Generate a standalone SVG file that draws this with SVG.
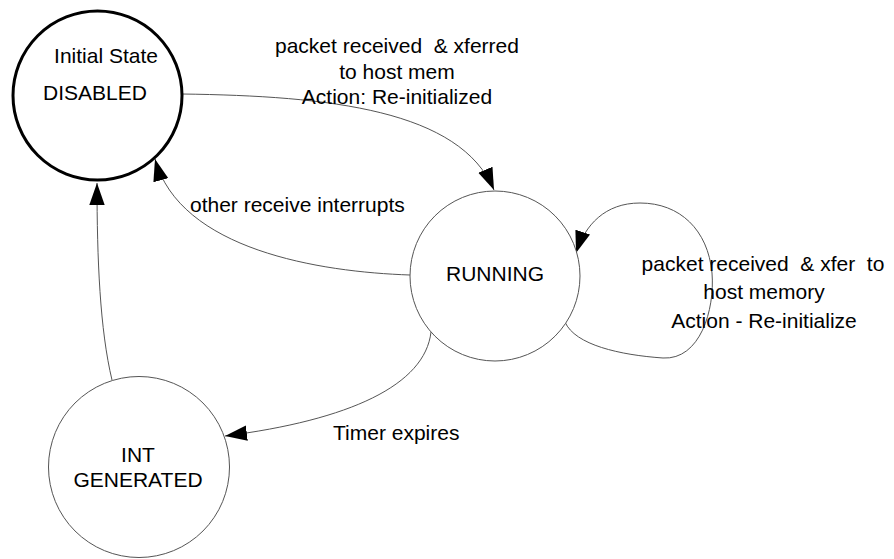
<svg xmlns="http://www.w3.org/2000/svg" width="894" height="559" viewBox="0 0 894 559">
<style>
text{font-family:"Liberation Sans",Arial,sans-serif;font-size:21px;fill:#000;white-space:pre}
.c{text-anchor:middle}
.node{fill:#fff;stroke:#555;stroke-width:1}
.init{fill:#fff;stroke:#000;stroke-width:3}
.edge{fill:none;stroke:#555;stroke-width:1}
</style>
<defs>
<marker id="ah" markerUnits="userSpaceOnUse" markerWidth="22" markerHeight="16" viewBox="0 0 20 14" refX="20" refY="7" orient="auto">
<path d="M0,0 L20,7 L0,14 Z" fill="#000"/>
</marker>
</defs>
<rect width="894" height="559" fill="#fff"/>
<g id="connectors">
<path class="edge" d="M182,94 C330,96 460,110 494,190" marker-end="url(#ah)"/>
<path class="edge" d="M410,275 C320,272 180,250 155,159" marker-end="url(#ah)"/>
<path class="edge" d="M112,380 C100,330 97,260 97,183" marker-end="url(#ah)"/>
<path class="edge" d="M431,332 C425,385 350,420 225,436" marker-end="url(#ah)"/>
<path class="edge" d="M565,322 C575,345 620,355 663,358 C700,360 715,310 712,273 C708,230 680,203 640,203 C605,203 585,225 576,253" marker-end="url(#ah)"/>
</g>
<g id="disabled">
<circle class="init" cx="97.5" cy="95.5" r="84.5"/>
<text class="c" x="106" y="63">Initial State</text>
<text class="c" x="95" y="100">DISABLED</text>
</g>
<g id="running">
<circle class="node" cx="495" cy="276" r="85"/>
<text class="c" x="495" y="281">RUNNING</text>
</g>
<g id="int-generated">
<circle class="node" cx="139" cy="467" r="90.5"/>
<text class="c" x="138" y="462">INT</text>
<text class="c" x="138" y="487">GENERATED</text>
</g>
<g id="labels">
<text class="c" x="397" y="53">packet received  &amp; xferred</text>
<text class="c" x="397" y="79">to host mem</text>
<text class="c" x="397" y="104">Action: Re-initialized</text>
<text x="190" y="212">other receive interrupts</text>
<text x="333" y="440">Timer expires</text>
<text class="c" x="763" y="271">packet received  &amp; xfer  to</text>
<text class="c" x="764" y="299">host memory</text>
<text class="c" x="764" y="328">Action - Re-initialize</text>
</g>
</svg>
